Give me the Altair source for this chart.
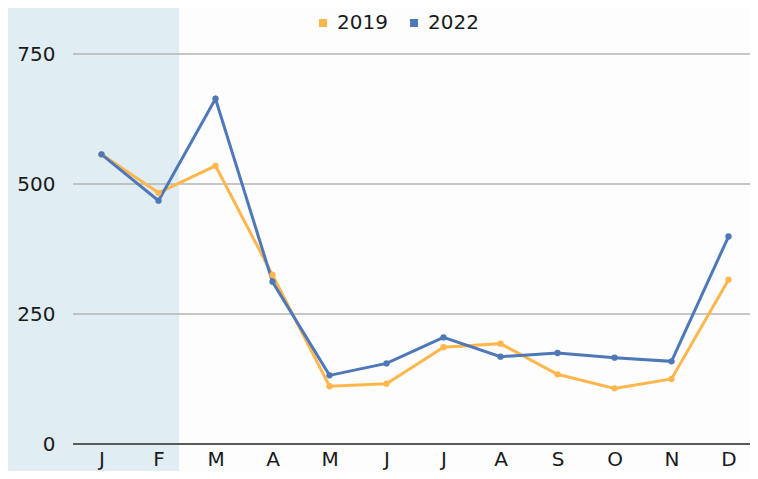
import altair as alt
import pandas as pd

month_idx = list(range(12))
month_labels = ["J", "F", "M", "A", "M", "J", "J", "A", "S", "O", "N", "D"]
v2019 = [557, 483, 535, 325, 111, 116, 186, 193, 134, 107, 125, 316]
v2022 = [557, 468, 664, 312, 132, 155, 205, 168, 175, 166, 159, 399]
series = ["2019", "2022"]
colors = ["#ffb74d", "#4e78b8"]
grid_values = [250, 500, 750]
base_value = [0]
y_ticks = [0, 250, 500, 750]

rows = []
for s, vals in zip(series, [v2019, v2022]):
    for m, v in zip(month_idx, vals):
        rows.append({"month": m, "value": v, "year": s})
df = pd.DataFrame(rows)

label_expr = "[" + ",".join("'" + l + "'" for l in month_labels) + "][datum.value]"
FONT = "DejaVu Sans"
W, H = 677, 390
STEP = 57
yscale = alt.Scale(domain=[0, 750], nice=False)
yaxis = alt.Axis(title=None, values=y_ticks, ticks=False, domain=False,
                 grid=False, labelFontSize=20, zindex=1,
                 labelColor="#1a1a1a", labelPadding=18, labelFont=FONT)

shade = alt.Chart(pd.DataFrame({"a": [0]})).mark_rect(color="#e0edf3").encode(
    x=alt.value(-70), x2=alt.value(106), y=alt.value(-54), y2=alt.value(425)
)

grid = alt.Chart(pd.DataFrame({"g": grid_values})).mark_rule(
    color="#b3b3b3", strokeWidth=1.5
).encode(
    y=alt.Y("g:Q", scale=yscale, axis=yaxis),
    x=alt.value(0), x2=alt.value(W),
)

baseline = alt.Chart(pd.DataFrame({"g": base_value})).mark_rule(
    color="#5a5a5a", strokeWidth=2
).encode(
    y=alt.Y("g:Q", scale=yscale, axis=yaxis),
    x=alt.value(0), x2=alt.value(W),
)

lines = alt.Chart(df).mark_line(
    strokeWidth=3, point=alt.OverlayMarkDef(size=40, filled=True, opacity=1)
).encode(
    x=alt.X("month:O", sort=month_idx,
            scale=alt.Scale(type="point", padding=0,
                            range=[STEP / 2, STEP / 2 + STEP * (len(month_idx) - 1)]),
            axis=alt.Axis(title=None, labelExpr=label_expr, labelAngle=0, ticks=False,
                          domain=False,
                          labelFontSize=20, labelColor="#1a1a1a", labelPadding=21,
                          labelBaseline="alphabetic",
                          labelFont=FONT, grid=False, zindex=1)),
    y=alt.Y("value:Q", scale=yscale, axis=yaxis),
    color=alt.Color("year:N", scale=alt.Scale(domain=series, range=colors),
                    legend=alt.Legend(title=None, orient="none", direction="horizontal",
                                      legendX=240, legendY=-41, symbolType="square",
                                      symbolSize=64, symbolStrokeWidth=0,
                                      labelFontSize=20, labelFont=FONT, labelColor="#1a1a1a",
                                      labelOffset=4, columnPadding=16)),
    order=alt.Order("year:N"),
)

chart = alt.layer(shade, grid, baseline, lines).properties(
    width=W, height=H,
    autosize=alt.AutoSizeParams(type="none"),
    padding={"left": 65, "top": 46, "right": 0, "bottom": 27},
    background="#fdfdfd",
).configure_view(stroke=None)

chart.save("out.html", embed_options={"renderer": "svg", "actions": False})
